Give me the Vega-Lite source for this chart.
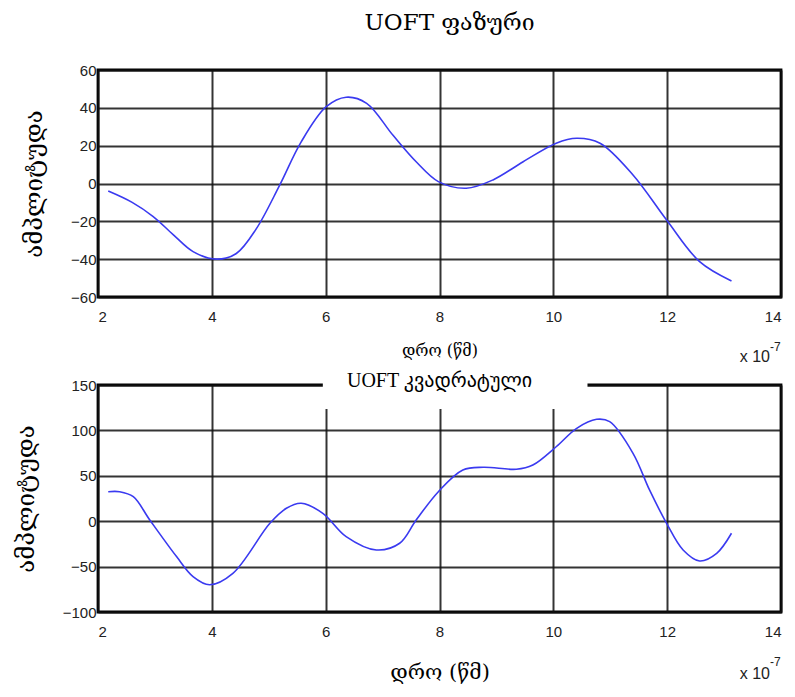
{
  "$schema": "https://vega.github.io/schema/vega-lite/v6.json",
  "background": "white",
  "padding": {"left": 12, "top": 10, "right": 4, "bottom": 5},
  "spacing": 0,
  "config": {
    "view": {"stroke": "black", "strokeWidth": 2.8},
    "axis": {
      "grid": true,
      "gridColor": "#111111",
      "gridWidth": 2,
      "gridOpacity": 0.85,
      "domain": false,
      "ticks": false,
      "labelFont": "Liberation Sans",
      "labelFontSize": 15,
      "labelColor": "#222222",
      "labelOverlap": false,
      "titleFont": "DejaVu Serif",
      "titleFontWeight": "normal",
      "titleColor": "black"
    },
    "title": {"font": "DejaVu Serif", "fontWeight": "normal", "color": "black"}
  },
  "datasets": {
    "phase": [
      {"t": 2.18, "amp": -4},
      {"t": 2.6, "amp": -10},
      {"t": 2.97, "amp": -17.5},
      {"t": 3.32, "amp": -27},
      {"t": 3.67, "amp": -36},
      {"t": 4.08, "amp": -40},
      {"t": 4.43, "amp": -37},
      {"t": 4.78, "amp": -24},
      {"t": 5.19, "amp": -1},
      {"t": 5.57, "amp": 22},
      {"t": 6.01, "amp": 40.6},
      {"t": 6.36, "amp": 45.6},
      {"t": 6.72, "amp": 42.4},
      {"t": 7.18, "amp": 25.6},
      {"t": 7.59, "amp": 11.5},
      {"t": 7.98, "amp": 1},
      {"t": 8.47, "amp": -2.5},
      {"t": 8.94, "amp": 1.9},
      {"t": 9.47, "amp": 11.5},
      {"t": 10.05, "amp": 21.3},
      {"t": 10.41, "amp": 23.9},
      {"t": 10.82, "amp": 21.3},
      {"t": 11.4, "amp": 4.5},
      {"t": 11.99, "amp": -19.3},
      {"t": 12.57, "amp": -41.3},
      {"t": 13.13, "amp": -51.5}
    ],
    "quad": [
      {"t": 2.18, "amp": 32.5},
      {"t": 2.38, "amp": 32.5},
      {"t": 2.62, "amp": 27},
      {"t": 2.91, "amp": 1.3},
      {"t": 3.38, "amp": -39},
      {"t": 3.67, "amp": -61},
      {"t": 3.96, "amp": -70},
      {"t": 4.37, "amp": -57.4},
      {"t": 5.02, "amp": -2.3},
      {"t": 5.31, "amp": 14.2},
      {"t": 5.57, "amp": 19.7},
      {"t": 5.95, "amp": 8.7},
      {"t": 6.36, "amp": -17},
      {"t": 6.89, "amp": -31.7},
      {"t": 7.3, "amp": -24.3},
      {"t": 7.59, "amp": 1.3},
      {"t": 7.98, "amp": 32.5},
      {"t": 8.41, "amp": 56.4},
      {"t": 8.77, "amp": 59.4},
      {"t": 9.35, "amp": 57.2},
      {"t": 9.64, "amp": 61.9},
      {"t": 10.05, "amp": 82},
      {"t": 10.41, "amp": 102.3},
      {"t": 10.76, "amp": 112.2},
      {"t": 10.99, "amp": 109.6},
      {"t": 11.4, "amp": 74.8},
      {"t": 11.69, "amp": 34.4},
      {"t": 11.99, "amp": -2.3},
      {"t": 12.28, "amp": -31.7},
      {"t": 12.57, "amp": -43.8},
      {"t": 12.87, "amp": -35.4},
      {"t": 13.13, "amp": -13.3}
    ]
  },
  "vconcat": [
    {
      "width": 683,
      "height": 227,
      "title": {"text": "UOFT ფაზური", "fontSize": 23, "offset": 28, "dx": 10},
      "layer": [
        {
          "data": {"name": "phase"},
          "mark": {"type": "line", "color": "#3a3af0", "strokeWidth": 1.6, "interpolate": "catmull-rom"},
          "encoding": {
            "x": {
              "field": "t", "type": "quantitative",
              "scale": {"domain": [2, 14], "nice": false, "zero": false},
              "axis": {"values": [2, 4, 6, 8, 10, 12, 14], "format": "d", "title": "დრო (წმ)", "titleFontSize": 16, "titlePadding": 18, "labelPadding": 12}
            },
            "y": {
              "field": "amp", "type": "quantitative",
              "scale": {"domain": [-60, 60], "nice": false, "zero": false},
              "axis": {"values": [-60, -40, -20, 0, 20, 40, 60], "format": "d", "title": "ამპლიტუდა", "titleFontSize": 24, "titlePadding": 24, "labelPadding": 2}
            }
          }
        },
        {
          "data": {"values": [{}]},
          "mark": {"type": "text", "text": "x 10", "align": "right", "baseline": "middle", "dx": -11, "dy": 60, "fontSize": 16, "font": "Liberation Sans", "color": "#222222", "clip": false},
          "encoding": {
            "x": {"datum": 14, "type": "quantitative", "scale": {"domain": [2, 14], "nice": false, "zero": false},
              "axis": {"values": [2, 4, 6, 8, 10, 12, 14], "format": "d", "title": "დრო (წმ)", "titleFontSize": 16, "titlePadding": 18, "labelPadding": 12}},
            "y": {"datum": -60, "type": "quantitative", "scale": {"domain": [-60, 60], "nice": false, "zero": false},
              "axis": {"values": [-60, -40, -20, 0, 20, 40, 60], "format": "d", "title": "ამპლიტუდა", "titleFontSize": 24, "titlePadding": 24, "labelPadding": 2}}
          }
        },
        {
          "data": {"values": [{}]},
          "mark": {"type": "text", "text": "-7", "align": "left", "baseline": "middle", "dx": -11, "dy": 50, "fontSize": 12, "font": "Liberation Sans", "color": "#222222", "clip": false},
          "encoding": {
            "x": {"datum": 14, "type": "quantitative", "scale": {"domain": [2, 14], "nice": false, "zero": false},
              "axis": {"values": [2, 4, 6, 8, 10, 12, 14], "format": "d", "title": "დრო (წმ)", "titleFontSize": 16, "titlePadding": 18, "labelPadding": 12}},
            "y": {"datum": -60, "type": "quantitative", "scale": {"domain": [-60, 60], "nice": false, "zero": false},
              "axis": {"values": [-60, -40, -20, 0, 20, 40, 60], "format": "d", "title": "ამპლიტუდა", "titleFontSize": 24, "titlePadding": 24, "labelPadding": 2}}
          }
        }
      ]
    },
    {
      "width": 683,
      "height": 227,
      "title": {"text": "UOFT კვადრატული", "fontSize": 20, "font": "Liberation Serif, DejaVu Sans", "offset": -22, "zindex": 1},
      "layer": [
        {
          "data": {"values": [{}]},
          "mark": {"type": "rect", "color": "white", "clip": false},
          "encoding": {
            "x": {"datum": 5.95, "type": "quantitative", "scale": {"domain": [2, 14], "nice": false, "zero": false},
              "axis": {"values": [2, 4, 6, 8, 10, 12, 14], "format": "d", "title": "დრო (წმ)", "titleFontSize": 21, "titlePadding": 22, "labelPadding": 12}},
            "x2": {"datum": 10.6},
            "y": {"datum": 123.6, "type": "quantitative", "scale": {"domain": [-100, 150], "nice": false, "zero": false},
              "axis": {"values": [-100, -50, 0, 50, 100, 150], "format": "d", "title": "ამპლიტუდა", "titleFontSize": 24, "titlePadding": 24, "labelPadding": 2}},
            "y2": {"datum": 168}
          }
        },
        {
          "data": {"name": "quad"},
          "mark": {"type": "line", "color": "#3a3af0", "strokeWidth": 1.6, "interpolate": "catmull-rom"},
          "encoding": {
            "x": {
              "field": "t", "type": "quantitative",
              "scale": {"domain": [2, 14], "nice": false, "zero": false},
              "axis": {"values": [2, 4, 6, 8, 10, 12, 14], "format": "d", "title": "დრო (წმ)", "titleFontSize": 21, "titlePadding": 22, "labelPadding": 12}
            },
            "y": {
              "field": "amp", "type": "quantitative",
              "scale": {"domain": [-100, 150], "nice": false, "zero": false},
              "axis": {"values": [-100, -50, 0, 50, 100, 150], "format": "d", "title": "ამპლიტუდა", "titleFontSize": 24, "titlePadding": 24, "labelPadding": 2}
            }
          }
        },
        {
          "data": {"values": [{}]},
          "mark": {"type": "text", "text": "x 10", "align": "right", "baseline": "middle", "dx": -11, "dy": 62, "fontSize": 16, "font": "Liberation Sans", "color": "#222222", "clip": false},
          "encoding": {
            "x": {"datum": 14, "type": "quantitative", "scale": {"domain": [2, 14], "nice": false, "zero": false},
              "axis": {"values": [2, 4, 6, 8, 10, 12, 14], "format": "d", "title": "დრო (წმ)", "titleFontSize": 21, "titlePadding": 22, "labelPadding": 12}},
            "y": {"datum": -100, "type": "quantitative", "scale": {"domain": [-100, 150], "nice": false, "zero": false},
              "axis": {"values": [-100, -50, 0, 50, 100, 150], "format": "d", "title": "ამპლიტუდა", "titleFontSize": 24, "titlePadding": 24, "labelPadding": 2}}
          }
        },
        {
          "data": {"values": [{}]},
          "mark": {"type": "text", "text": "-7", "align": "left", "baseline": "middle", "dx": -11, "dy": 50, "fontSize": 12, "font": "Liberation Sans", "color": "#222222", "clip": false},
          "encoding": {
            "x": {"datum": 14, "type": "quantitative", "scale": {"domain": [2, 14], "nice": false, "zero": false},
              "axis": {"values": [2, 4, 6, 8, 10, 12, 14], "format": "d", "title": "დრო (წმ)", "titleFontSize": 21, "titlePadding": 22, "labelPadding": 12}},
            "y": {"datum": -100, "type": "quantitative", "scale": {"domain": [-100, 150], "nice": false, "zero": false},
              "axis": {"values": [-100, -50, 0, 50, 100, 150], "format": "d", "title": "ამპლიტუდა", "titleFontSize": 24, "titlePadding": 24, "labelPadding": 2}}
          }
        }
      ]
    }
  ]
}
